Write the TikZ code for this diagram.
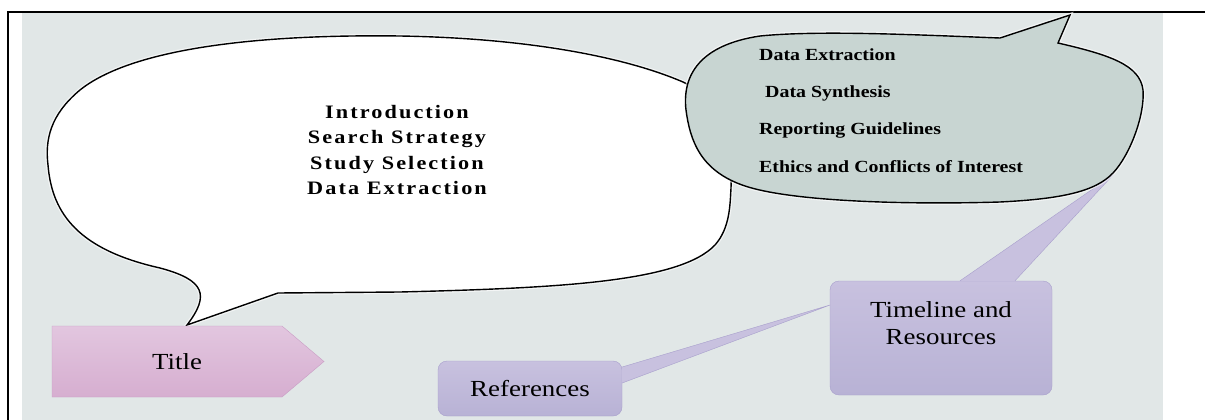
\documentclass[tikz,border=0pt]{standalone}
\usepackage{fontspec}
\setmainfont{Liberation Serif}[FakeStretch=1.17]
\newfontfamily\spacedfont{Liberation Serif}[FakeStretch=1.17,LetterSpace=11]
\usetikzlibrary{positioning,calc}

\definecolor{panel}{RGB}{225,231,231}
\definecolor{greyfill}{RGB}{200,213,210}
\definecolor{pinktop}{RGB}{226,198,223}
\definecolor{pinkbot}{RGB}{214,174,208}
\definecolor{pinkline}{RGB}{201,157,197}
\definecolor{lilactop}{RGB}{200,193,223}
\definecolor{lilacbot}{RGB}{184,178,213}
\definecolor{lilacline}{RGB}{168,159,204}

\tikzset{
  bubble/.style={line width=1.4pt, preaction={draw=white, line width=4pt, opacity=.6}},
  lilacbox/.style={draw=lilacline, top color=lilactop, bottom color=lilacbot, rounded corners=9pt},
  boxtext/.style={inner sep=0pt, align=center, font=\fontsize{23}{27}\selectfont},
  greytext/.style={inner sep=0pt, anchor=base west, font=\bfseries\fontsize{17}{18}\selectfont},
}

\begin{document}
\begin{tikzpicture}[x=1pt,y=-1pt]
\useasboundingbox (0,0) rectangle (1205,420);
\fill[panel] (22,13) rectangle (1163,420);
\draw[line width=1.2pt] (8,420) -- (8,12) -- (1205,12);

% white bubble
\filldraw[bubble, fill=white] (187,325) -- (278,293) -- (400,292) .. controls (560,288) and (680,282) .. (715,245)
  .. controls (730,228) and (730,205) .. (731,188) .. controls (733,140) and (720,100) .. (683,82)
  .. controls (620,55) and (520,38) .. (400,36) .. controls (250,34) and (130,50) .. (80,90)
  .. controls (50,115) and (45,140) .. (48,165) .. controls (52,215) and (80,250) .. (160,268)
  .. controls (205,280) and (210,295) .. (187,325) -- cycle;

% title arrow
\shade[top color=pinktop, bottom color=pinkbot, draw=pinkline] (52,326) -- (282,326) -- (324,361.5) -- (282,397) -- (52,397) -- cycle;
\node[boxtext] (title) at (177,362) {Title};

\node[lilacbox, minimum width=184pt, minimum height=55pt] (refs) at (530,388.5) {};
\node[lilacbox, minimum width=222pt, minimum height=114pt] (timeline) at (941,338) {};
\coordinate (tipG) at (1113,175);
\coordinate (tipT) at (830,305);

% callout pointers
\fill[lilactop] ([yshift=21.5pt]refs.east) -- (tipT) -- ([yshift=5.5pt]refs.east) -- cycle;
\draw[lilacline] ([yshift=21.5pt]refs.east) -- (tipT) -- ([yshift=5.5pt]refs.east);
\fill[lilactop] ([xshift=19pt]timeline.north) -- (tipG) -- ([xshift=74pt]timeline.north) -- cycle;
\draw[lilacline] ([xshift=19pt]timeline.north) -- (tipG) -- ([xshift=74pt]timeline.north);

% grey bubble
\filldraw[bubble, fill=greyfill] (1000,38) -- (1070,15) -- (1058,43) .. controls (1110,55) and (1140,65) .. (1143,90)
  .. controls (1145,115) and (1130,155) .. (1113,173) .. controls (1095,192) and (1060,199) .. (1000,202)
  .. controls (900,205) and (790,201) .. (745,186) .. controls (700,171) and (690,140) .. (686,110)
  .. controls (682,75) and (700,45) .. (760,36) .. controls (820,30) and (920,35) .. (1000,38) -- cycle;

\node[align=center, font=\spacedfont\bfseries\fontsize{19}{25.3}\selectfont] (steps) at (397,150)
  {Introduction\\Search Strategy\\Study Selection\\Data Extraction};
\node[greytext] (extract) at (759,60) {Data Extraction};
\node[greytext] (synth) at (765,97) {Data Synthesis};
\node[greytext] (report) at (759,134) {Reporting Guidelines};
\node[greytext] (ethics) at (759,172) {Ethics and Conflicts of Interest};
\node[boxtext] (reftext) at (refs) {References};
\node[boxtext, anchor=north] (timetext) at ([yshift=-21pt]timeline.north) {Timeline and\\Resources};
\end{tikzpicture}
\end{document}
